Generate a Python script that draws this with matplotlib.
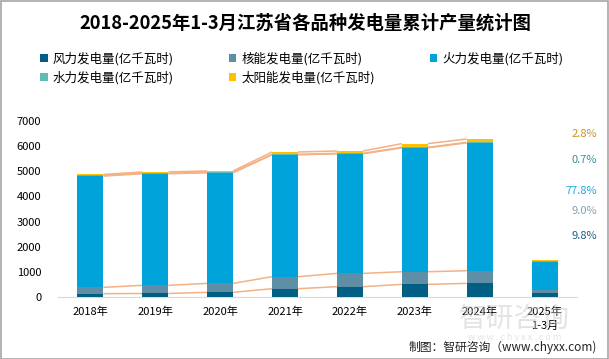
import numpy as np
import matplotlib
matplotlib.use('Agg')
from matplotlib import pyplot as plt

plt.rcParams['font.family'] = ['Noto Sans CJK SC', 'DejaVu Sans']

years = ['2018年', '2019年', '2020年', '2021年', '2022年', '2023年', '2024年', '2025年\n1-3月']
wind = [132, 140, 185, 331, 410, 503, 542, 143]
nuclear = [252, 323, 357, 476, 529, 502, 503, 131]
thermal = [4424, 4438, 4400, 4848, 4755, 4927, 5086, 1132]
hydro = [26, 20, 18, 20, 20, 20, 20, 10]
solar = [40, 53, 53, 92, 93, 146, 132, 41]

series_names = ['风力发电量(亿千瓦时)', '核能发电量(亿千瓦时)', '火力发电量(亿千瓦时)',
                '水力发电量(亿千瓦时)', '太阳能发电量(亿千瓦时)']
series_colors = ['#005F83', '#5E8FA6', '#00A3DA', '#5FBDB6', '#FFC000']
share_2025 = ['9.8%', '9.0%', '77.8%', '0.7%', '2.8%']
share_colors = ['#1F5F85', '#7FA3B8', '#1AA8E0', '#3A8FA0', '#C8951E']

fig = plt.figure(figsize=(6.09, 3.59), dpi=100)
ax = fig.add_axes([0.0952, 0.1727, 0.8523, 0.4903])

x = np.arange(len(years))
width = 0.4
data = [wind, nuclear, thermal, hydro, solar]
bottom = np.zeros(len(years))
tops = []
handles = []
for vals, name, col in zip(data, series_names, series_colors):
    h = ax.bar(x, vals, width, bottom=bottom, color=col, label=name, zorder=3)
    handles.append(h)
    bottom = bottom + np.array(vals)
    tops.append(bottom.copy())

# series lines between consecutive bars (not to the 2025 partial year)
for top in tops:
    for i in range(len(years) - 2):
        ax.plot([x[i] + width / 2, x[i + 1] - width / 2], [top[i], top[i + 1]],
                color='#F4B183', lw=1.1, zorder=2, solid_capstyle='butt')

ax.set_xlim(-0.5, len(years) - 0.5)
ax.set_ylim(0, 7000)
ax.set_yticks(range(0, 7001, 1000))
ax.set_xticks(x)
ax.set_xticklabels(years, fontsize=8, linespacing=1.5)
ax.tick_params(axis='y', labelsize=8, length=0, pad=12)
ax.tick_params(axis='x', length=0, pad=7)
for s in ['top', 'right', 'left']:
    ax.spines[s].set_visible(False)
ax.spines['bottom'].set_color('#D9D9D9')

# watermark
fig.text(0.845, 1 - 319 / 359, '智研咨询', fontsize=20, color='#C8C8C8', alpha=0.5,
         ha='center', va='center', zorder=0)
fig.text(0.845, 1 - 337 / 359, 'w w w . c h y x x . c o m', fontsize=6.5, color='#C8C8C8',
         alpha=0.5, ha='center', va='center', zorder=0)

# share labels for 2025
label_y = [236, 211, 191, 160, 134]
for txt, col, py in zip(share_2025, share_colors, label_y):
    fig.text(597 / 609, 1 - py / 359, txt, color=col, fontsize=8, ha='right', va='center')

fig.text(305 / 609, 1 - 23 / 359, '2018-2025年1-3月江苏省各品种发电量累计产量统计图',
         ha='center', va='center', fontsize=13.2, fontweight='bold')

order = [0, 3, 1, 4, 2]
leg = fig.legend([handles[i] for i in order], [series_names[i] for i in order],
                 ncol=3, loc='upper left', bbox_to_anchor=(0.052, 1 - 43 / 359),
                 frameon=False, fontsize=9, handlelength=0.6, handleheight=0.6,
                 handletextpad=0.4, columnspacing=4.4, labelspacing=0.45, borderpad=0.2)

fig.text(597 / 609, 1 - 347 / 359, '制图：智研咨询（www.chyxx.com)', fontsize=8.5,
         ha='right', va='center', color='#222222')

fig.patches.append(plt.Rectangle((0.001, 0.001), 0.997, 0.997, transform=fig.transFigure,
                                 fill=False, edgecolor='#A6A6A6', lw=1.2))

fig.savefig('out.png', dpi=100)
